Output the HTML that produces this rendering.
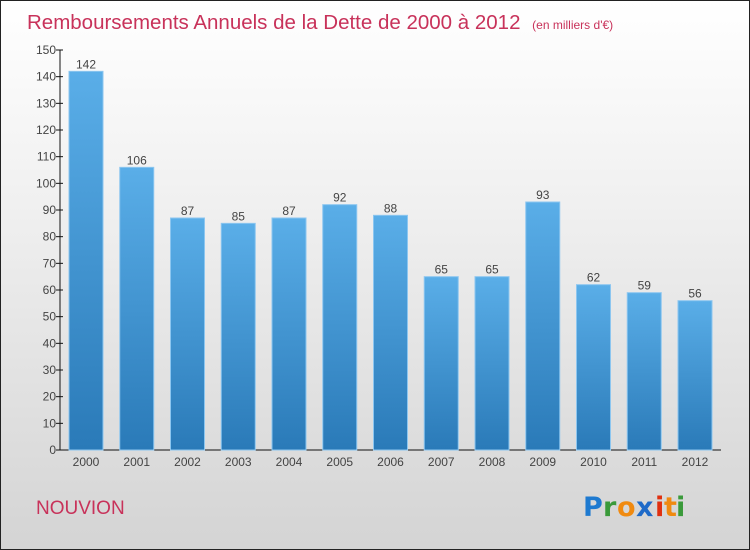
<!DOCTYPE html>
<html><head><meta charset="utf-8"><style>
body{margin:0;width:750px;height:550px;overflow:hidden;font-family:"Liberation Sans",sans-serif}
#wrap{position:absolute;left:0;top:0;width:748px;height:548px;border:1px solid #222;background:linear-gradient(#ffffff,#f3f3f3 30%,#d4d4d4)}
</style></head><body>
<div id="wrap"></div>
<svg id="svg" width="750" height="550" style="position:absolute;left:0;top:0">
<text x="27" y="29" font-size="20.5" fill="#c8325a">Remboursements Annuels de la Dette de 2000 à 2012 <tspan font-size="12" dx="6">(en milliers d'€)</tspan></text>
<text x="36" y="514" font-size="19" fill="#c8325a">NOUVION</text>
<g font-size="27" font-weight="bold" font-family="'DejaVu Sans',sans-serif">
<text x="583" y="516" fill="#1e7ad0">P</text><text x="603" y="516" fill="#3a9a3a">r</text><text x="617" y="516" fill="#f08a10">o</text><text x="636" y="516" fill="#1e6ac8">x</text><text x="655" y="516" fill="#e03010">i</text><text x="664" y="516" fill="#f08a10">t</text><text x="676" y="516" fill="#3a9a3a">i</text>
</g>
<defs><linearGradient id="bg" x1="0" y1="0" x2="0" y2="1"><stop offset="0" stop-color="#5aaee8"/><stop offset="1" stop-color="#2a7ab8"/></linearGradient></defs>
<g id="plot"></g>
</svg>
<script>
const years=["2000","2001","2002","2003","2004","2005","2006","2007","2008","2009","2010","2011","2012"];
const values=[142,106,87,85,87,92,88,65,65,93,62,59,56];
const ticks=[0,10,20,30,40,50,60,70,80,90,100,110,120,130,140,150];
const NS="http://www.w3.org/2000/svg",g=document.getElementById('plot');
const y=v=>450-v*400/150, xc=i=>86+i*50.75;
function mk(t,a,txt){const e=document.createElementNS(NS,t);for(const k in a)e.setAttribute(k,a[k]);if(txt!=null)e.textContent=txt;g.appendChild(e);return e;}
let ax=mk('line',{x1:60,y1:50,x2:60,y2:450,stroke:'#111'});


let bx=mk('line',{x1:60,y1:450,x2:721,y2:450,stroke:'#111'});


ticks.forEach(t=>{
 mk('line',{x1:56,y1:y(t),x2:63,y2:y(t),stroke:'#111'});
 let l=mk('text',{x:56,y:y(t)+4,'text-anchor':'end','font-size':12,fill:'#444'},t);
 
 
});
values.forEach((v,i)=>{
 let r=mk('rect',{x:xc(i)-17,y:y(v),width:34,height:450-y(v),fill:'url(#bg)',stroke:'#8cc6f0','stroke-width':1});
 
 
 let vl=mk('text',{x:xc(i),y:y(v)-3,'text-anchor':'middle','font-size':12,fill:'#444'},v);
 
 
 let xl=mk('text',{x:xc(i),y:466,'text-anchor':'middle','font-size':12,fill:'#444'},years[i]);
 
 
});
</script>
</body></html>
